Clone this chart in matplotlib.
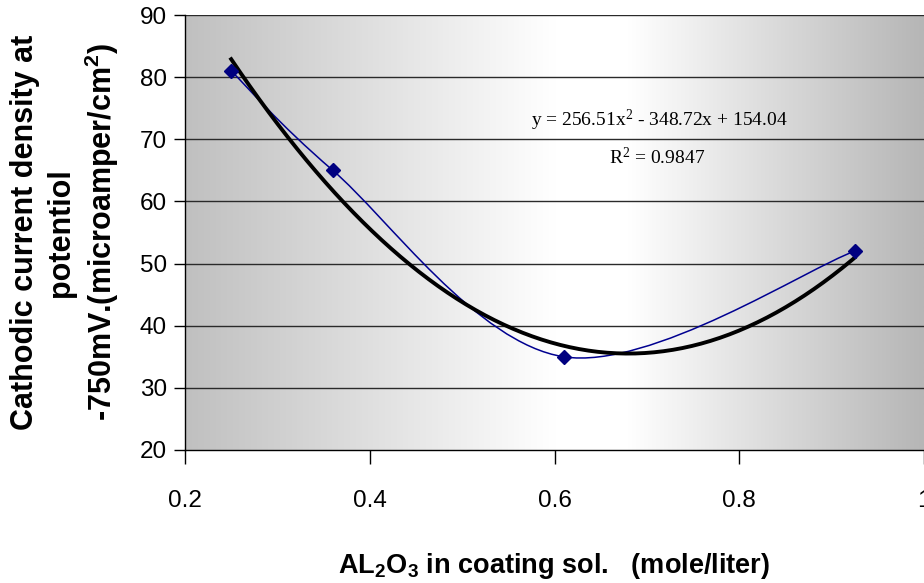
import numpy as np
import matplotlib
matplotlib.use("Agg")
import matplotlib.pyplot as plt
from matplotlib.path import Path
from matplotlib.patches import PathPatch
from matplotlib.colors import LinearSegmentedColormap

plt.rcParams['font.family'] = ['Liberation Sans', 'DejaVu Sans']
plt.rcParams['mathtext.default'] = 'regular'

# data
conc = [0.25, 0.36, 0.61, 0.925]
current = [81, 65, 35, 52]
trend_coef = [256.51, -348.72, 154.04]
x_ticks = [0.2, 0.4, 0.6, 0.8, 1.0]
x_ticklabels = ["0.2", "0.4", "0.6", "0.8", "1"]
y_ticks = [20, 30, 40, 50, 60, 70, 80, 90]

fig = plt.figure(figsize=(9.24, 5.83), dpi=100)
ax = fig.add_axes([185/924, 1 - 450/583, 1 - 185/924, 435/583])

# background: gray -> white -> gray
cmap = LinearSegmentedColormap.from_list(
    "bg", [(0.0, "#c0c0c0"), (0.5, "#ffffff"), (0.6, "#ffffff"), (1.0, "#b6b6b6")])
ax.imshow(np.linspace(0, 1, 256)[None, :], cmap=cmap, aspect="auto",
          extent=[0.2, 1.0, 20, 90], zorder=0, interpolation="bilinear")

ax.set_xlim(0.2, 1.0)
ax.set_ylim(20, 90)
for yv in y_ticks[1:]:
    ax.axhline(yv, color="#2a2a2a", lw=1.0, zorder=1)

# smoothed line through the points (Catmull-Rom as bezier segments)
pts = np.column_stack([conc, current]).astype(float)
verts = [tuple(pts[0])]
codes = [Path.MOVETO]
n = len(pts)
for i in range(n - 1):
    p0 = pts[max(i - 1, 0)]
    p1 = pts[i]
    p2 = pts[i + 1]
    p3 = pts[min(i + 2, n - 1)]
    c1 = p1 + (p2 - p0) / 6
    c2 = p2 - (p3 - p1) / 6
    verts += [tuple(c1), tuple(c2), tuple(p2)]
    codes += [Path.CURVE4] * 3
ax.add_patch(PathPatch(Path(verts, codes), facecolor="none",
                       edgecolor="#000090", lw=1.1, zorder=3))

# polynomial trendline
xt = np.linspace(conc[0], conc[-1], 200)
ax.plot(xt, np.polyval(trend_coef, xt), color="black", lw=2.8, zorder=4)

ax.plot(conc, current, linestyle="none", marker="D", markersize=7,
        color="#000080", zorder=5)

ax.text(0.713, 73.1, "y = 256.51x$^2$ - 348.72x + 154.04", family="Liberation Serif",
        fontsize=14, ha="center", va="center")
ax.text(0.711, 67.0, "R$^2$ = 0.9847", family="Liberation Serif",
        fontsize=14, ha="center", va="center")

ax.set_xticks(x_ticks)
ax.set_xticklabels(x_ticklabels)
ax.set_yticks(y_ticks)
ax.tick_params(axis="x", direction="out", length=10, width=1, pad=19, labelsize=17.5)
ax.tick_params(axis="y", direction="out", length=8, width=1, pad=5, labelsize=17.5)
for s in ["top", "right"]:
    ax.spines[s].set_visible(False)
for s in ["left", "bottom"]:
    ax.spines[s].set_color("black")
    ax.spines[s].set_linewidth(1)

ax.set_xlabel("AL$_2$O$_3$ in coating sol.   (mole/liter)", fontsize=19.5,
              fontweight="bold", labelpad=28)
ax.set_ylabel("Cathodic current density at\npotentiol\n-750mV.(microamper/cm$^2$)",
              fontsize=22, fontweight="bold", labelpad=13.5, linespacing=1.24)

fig.savefig("out.png", dpi=100)
